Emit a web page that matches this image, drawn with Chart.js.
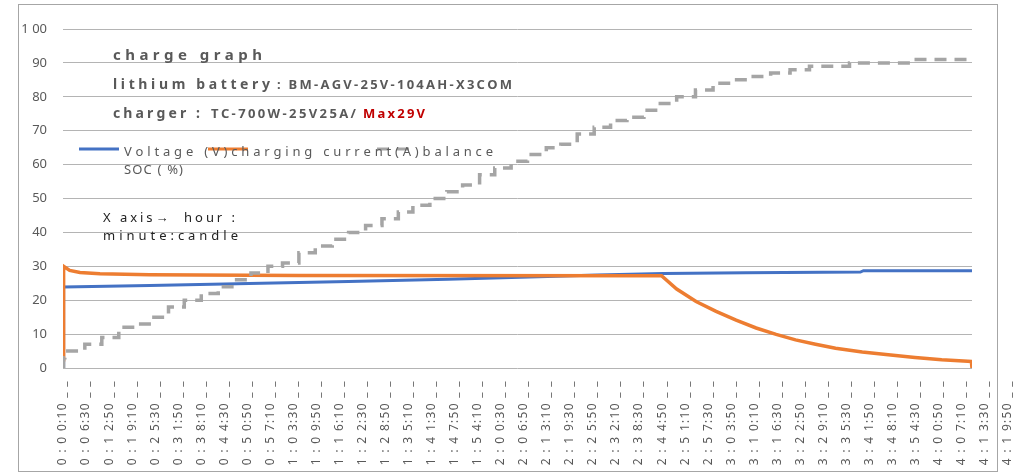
<!DOCTYPE html>
<html>
<head>
<meta charset="utf-8">
<script src="https://cdn.jsdelivr.net/npm/chart.js@4"></script>
<style>
  html, body { margin: 0; padding: 0; background: #fff; }
  #wrap { width: 1032px; height: 474px; }
</style>
</head>
<body>
<div id="wrap"><canvas id="c" width="1032" height="474"></canvas></div>
<script>
// ---- data (time in seconds since start) ----
const tickTimes = [10,390,770,1150,1530,1910,2290,2670,3050,3430,3810,4190,4570,4950,5330,5710,6090,6470,6850,7230,7610,7990,8370,8750,9130,9510,9890,10270,10650,11030,11410,11790,12170,12550,12930,13310,13690,14070,14450,14830,15210,15590];
const tickLabels = [
  "0 : 0 0:10 _ _","0 : 0 6:30 _ _","0 : 1 2:50 _ _","0 : 1 9:10 _ _","0 : 2 5:30 _ _","0 : 3 1:50 _ _",
  "0 : 3 8:10 _ _","0 : 4 4:30 _ _","0 : 5 0:50 _ _","0 : 5 7:10 _ _","1 : 0 3:30 _ _","1 : 0 9:50 _ _",
  "1 : 1 6:10 _ _","1 : 2 2:30 _ _","1 : 2 8:50 _ _","1 : 3 5:10 _ _","1 : 4 1:30 _ _","1 : 4 7:50 _ _",
  "1 : 5 4:10 _ _","2 : 0 0:30 _ _","2 : 0 6:50 _ _","2 : 1 3:10 _ _","2 : 1 9:30 _ _","2 : 2 5:50 _ _",
  "2 : 3 2:10 _ _","2 : 3 8:30 _ _","2 : 4 4:50 _ _","2 : 5 1:10 _ _","2 : 5 7:30 _ _","3 : 0 3:50 _ _",
  "3 : 1 0:10 _ _","3 : 1 6:30 _ _","3 : 2 2:50 _ _","3 : 2 9:10 _ _","3 : 3 5:30 _ _","3 : 4 1:50 _ _",
  "3 : 4 8:10 _ _","3 : 5 4:30 _ _","4 : 0 0:50 _ _","4 : 0 7:10 _ _","4 : 1 3:30 _ _","4 : 1 9:50 _ _"
];
const yTickLabels = {100: "1 00"};

const voltTimes  = [10, 20, 1440, 3080, 4720, 6360, 8000, 8820, 9910, 11270, 13160, 13210, 15000];
const voltValues = [0, 23.9, 24.3, 24.9, 25.5, 26.2, 27.0, 27.4, 27.9, 28.1, 28.3, 28.7, 28.7];

const currTimes  = [10, 20, 120, 290, 620, 1440, 3900, 9880, 10130, 10450, 10780, 11110, 11440, 11770, 12090, 12420, 12750, 13190, 13620, 14060, 14500, 14930, 14990, 15000];
const currValues = [2.4, 30.0, 28.8, 28.2, 27.8, 27.5, 27.3, 27.2, 23.3, 19.6, 16.7, 14.1, 11.8, 9.9, 8.3, 7.0, 5.8, 4.7, 3.9, 3.1, 2.4, 2.0, 1.9, 0];

const socTimes  = [10,20,40,370,650,930,1190,1470,1750,2010,2290,2570,2830,3110,3390,3630,3900,4170,4450,4720,5000,5270,5540,5780,6060,6340,6600,6880,7130,7400,7670,7980,8220,8490,8770,9040,9310,9590,9860,10130,10440,10730,11030,11360,11680,12000,12320,12980,14050,15000];
const socValues = [0,3,5,7,9,12,13,15,18,20,22,24,26,28,30,31,34,36,38,40,42,44,46,48,50,52,54,57,59,61,63,65,66,69,71,73,74,76,78,80,82,84,85,86,87,88,89,90,91,91];

const seriesNames = ["Voltage (V)", "charging current(A)", "balance SOC (%)"];
const titleLines = ["charge graph", "lithium battery", ": BM-AGV-25V-104AH-X3COM", "charger :", "TC-700W-25V25A/", "Max29V"];
const axisNote = ["X axis\u2192  hour :", "minute:candle"];

const pts = (t, v) => t.map((x, i) => ({x: x, y: v[i]}));

const FONT = "'Noto Sans', 'Open Sans', sans-serif";
const GRAY_TXT = '#595959';

function drawSpaced(ctx, text, x, y, targetW) {
  const chars = Array.from(text);
  const widths = chars.map(c => ctx.measureText(c).width);
  const total = widths.reduce((a, b) => a + b, 0);
  const sp = chars.length > 1 ? (targetW - total) / (chars.length - 1) : 0;
  let cx = x;
  chars.forEach((c, i) => { ctx.fillText(c, cx, y); cx += widths[i] + sp; });
}

const decor = {
  id: 'decor',
  beforeDraw(chart) {
    const ctx = chart.ctx;
    ctx.save();
    ctx.fillStyle = '#fff';
    ctx.fillRect(0, 0, chart.width, chart.height);
    ctx.strokeStyle = '#a6a6a6';
    ctx.lineWidth = 1;
    ctx.strokeRect(18.5, 4.5, 979, 467);
    ctx.restore();
    const xs = chart.scales.x;
    if (!xs._spacedPatched) {
      const orig = xs.drawLabels;
      xs.drawLabels = function (area) {
        const c = this.ctx;
        c.save();
        if ('letterSpacing' in c) c.letterSpacing = '1.3px';
        orig.call(this, area);
        c.restore();
      };
      xs._spacedPatched = true;
    }
  },
  afterDraw(chart) {
    const ctx = chart.ctx;
    ctx.save();
    ctx.textBaseline = 'alphabetic';
    ctx.textAlign = 'left';
    // titles
    ctx.fillStyle = GRAY_TXT;
    ctx.font = "bold 15px " + FONT;
    drawSpaced(ctx, titleLines[0], 113, 60, 149);
    ctx.font = "bold 14px " + FONT;
    drawSpaced(ctx, titleLines[1], 113, 89, 157);
    ctx.font = "bold 13px " + FONT;
    drawSpaced(ctx, titleLines[2], 277, 89, 235);
    ctx.font = "bold 14px " + FONT;
    drawSpaced(ctx, titleLines[3], 113, 118, 87);
    ctx.font = "bold 13px " + FONT;
    drawSpaced(ctx, titleLines[4], 211, 118, 145);
    ctx.fillStyle = '#c00000';
    drawSpaced(ctx, titleLines[5], 363, 118, 62);

    // legend samples
    const ds = chart.data.datasets;
    ctx.lineWidth = 3;
    ctx.strokeStyle = ds[0].borderColor;
    ctx.beginPath(); ctx.moveTo(79, 149); ctx.lineTo(119, 149); ctx.stroke();
    ctx.strokeStyle = ds[1].borderColor;
    ctx.beginPath(); ctx.moveTo(208, 149); ctx.lineTo(248, 149); ctx.stroke();
    ctx.strokeStyle = ds[2].borderColor;
    ctx.setLineDash([12, 8]);
    ctx.beginPath(); ctx.moveTo(377, 149); ctx.lineTo(412, 149); ctx.stroke();
    ctx.setLineDash([]);

    // legend text
    ctx.fillStyle = GRAY_TXT;
    ctx.font = "13px " + FONT;
    drawSpaced(ctx, seriesNames[0] + seriesNames[1] + "balance", 124, 156, 369);
    drawSpaced(ctx, "SOC ( %)", 124, 174, 59);

    // axis note
    ctx.fillStyle = '#222';
    ctx.font = "13px " + FONT;
    drawSpaced(ctx, axisNote[0], 103, 222, 132);
    drawSpaced(ctx, axisNote[1], 103, 240, 135);
    ctx.restore();
  }
};

new Chart(document.getElementById('c'), {
  type: 'line',
  data: {
    datasets: [
      { label: seriesNames[0], data: pts(voltTimes, voltValues), borderColor: '#4472c4', borderWidth: 3, pointRadius: 0, order: 3 },
      { label: seriesNames[1], data: pts(currTimes, currValues), borderColor: '#ed7d31', borderWidth: 3.5, pointRadius: 0, order: 2 },
      { label: seriesNames[2], data: pts(socTimes, socValues), borderColor: '#a5a5a5', borderWidth: 3.5, pointRadius: 0, stepped: true, borderDash: [12, 8], order: 1 }
    ]
  },
  options: {
    responsive: false,
    animation: false,
    devicePixelRatio: 1,
    layout: { padding: { top: 29, right: 55, left: 0, bottom: 0 } },
    plugins: { legend: { display: false }, tooltip: { enabled: false }, title: { display: false } },
    scales: {
      x: {
        type: 'linear',
        min: 10,
        max: 15000,
        afterBuildTicks(axis) { axis.ticks = tickTimes.map(v => ({ value: v })); },
        afterFit(axis) { axis.height = 106; },
        grid: { display: false, drawTicks: false },
        border: { display: false },
        ticks: {
          autoSkip: false,
          minRotation: 90,
          maxRotation: 90,
          padding: 12,
          color: GRAY_TXT,
          font: { size: 12, family: FONT },
          callback: (v, i) => tickLabels[i]
        }
      },
      y: {
        min: 0,
        max: 100,
        afterFit(axis) { axis.width = 63; },
        grid: { color: '#b4b4b4', lineWidth: 1, drawTicks: false },
        border: { display: false },
        ticks: {
          stepSize: 10,
          padding: 16,
          color: GRAY_TXT,
          font: { size: 13, family: FONT },
          callback: v => (yTickLabels[v] !== undefined ? yTickLabels[v] : String(v))
        }
      }
    }
  },
  plugins: [decor]
});
</script>
</body>
</html>
